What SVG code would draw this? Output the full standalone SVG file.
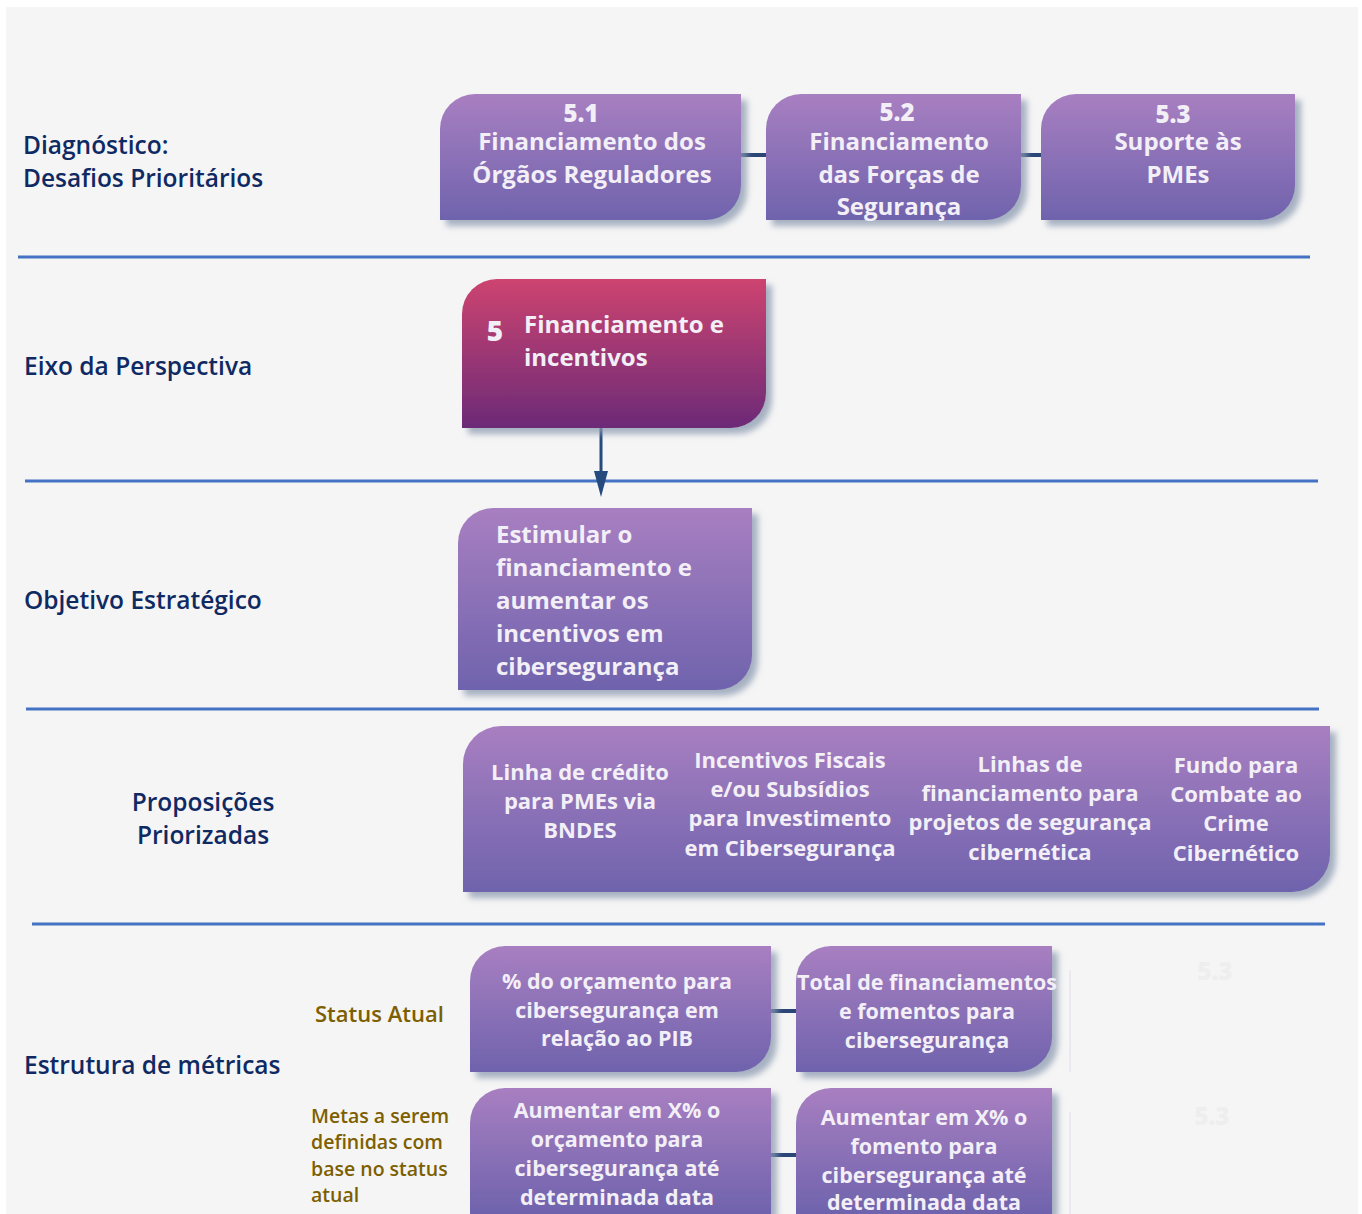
<svg xmlns="http://www.w3.org/2000/svg" width="1362" height="1214" viewBox="0 0 1362 1214">
  <defs>
    <linearGradient id="gPurple" x1="0" y1="0" x2="0" y2="1">
      <stop offset="0" stop-color="#a87fc1"/>
      <stop offset="1" stop-color="#6f63ad"/>
    </linearGradient>
    <linearGradient id="gPink" x1="0" y1="0" x2="0" y2="1">
      <stop offset="0" stop-color="#cd4470"/>
      <stop offset="1" stop-color="#6c2a77"/>
    </linearGradient>
    <filter id="shadow" x="-10%" y="-10%" width="125%" height="130%">
      <feDropShadow dx="6" dy="6" stdDeviation="3" flood-color="#8a9ab0" flood-opacity="0.75"/>
    </filter>
    <marker id="arrow" viewBox="0 0 26 14" refX="9" refY="7" markerWidth="26" markerHeight="14" markerUnits="userSpaceOnUse" orient="auto">
      <path d="M0,0 L26,7 L0,14 Z" fill="#254a7e"/>
    </marker>
    <style>
      .box { fill: url(#gPurple); filter: url(#shadow); }
      .pink { fill: url(#gPink); filter: url(#shadow); }
      .bt, .btl { font-family: "Open Sans", "Liberation Sans", sans-serif; font-weight: 700; fill: #f3eff7; }
      .bt { text-anchor: middle; }
      .btl { text-anchor: start; }
      .big { font-size: 24px; }
      .mid { font-size: 22px; }
      .sml { font-size: 21.5px; }
      .num { font-family: "Open Sans", "Liberation Sans", sans-serif; font-weight: 800; fill: #f3eff7; font-size: 24px; text-anchor: middle; }
      .lbl { font-family: "Open Sans", "Liberation Sans", sans-serif; font-weight: 600; fill: #0f2a63; font-size: 24.5px; }
      .gold { font-family: "Open Sans", "Liberation Sans", sans-serif; font-weight: 600; fill: #7d5f00; }
      .rule { stroke: #4472c4; stroke-width: 3; }
      .link { stroke: #2b4676; stroke-width: 4; fill: none; }
    </style>
  </defs>

  <!-- page -->
  <rect x="0" y="0" width="1362" height="1214" fill="#ffffff"/>
  <rect x="6" y="7" width="1352" height="1207" fill="#f5f5f5"/>

  <!-- section rules -->
  <g id="rules">
    <line class="rule" x1="18" y1="257" x2="1310" y2="257"/>
    <line class="rule" x1="25" y1="481" x2="1318" y2="481"/>
    <line class="rule" x1="26" y1="709" x2="1319" y2="709"/>
    <line class="rule" x1="32" y1="924" x2="1325" y2="924"/>
  </g>

  <!-- row labels -->
  <g id="labels">
    <text class="lbl" x="23" y="154">Diagnóstico:</text>
    <text class="lbl" x="23" y="187">Desafios Prioritários</text>
    <text class="lbl" x="24" y="375">Eixo da Perspectiva</text>
    <text class="lbl" x="24" y="609">Objetivo Estratégico</text>
    <text class="lbl" x="203" y="811" text-anchor="middle">Proposições</text>
    <text class="lbl" x="203" y="844" text-anchor="middle">Priorizadas</text>
    <text class="lbl" x="24" y="1074">Estrutura de métricas</text>
    <text class="gold" x="315" y="1022" font-size="22">Status Atual</text>
    <text class="gold" x="311" y="1123" font-size="19.5">Metas a serem</text>
    <text class="gold" x="311" y="1149" font-size="19.5">definidas com</text>
    <text class="gold" x="311" y="1176" font-size="19.5">base no status</text>
    <text class="gold" x="311" y="1202" font-size="19.5">atual</text>
  </g>

  <!-- connectors -->
  <g id="connectors">
    <line class="link" x1="741" y1="155" x2="766" y2="155"/>
    <line class="link" x1="1021" y1="155" x2="1041" y2="155"/>
    <line x1="601" y1="428" x2="601" y2="480" stroke="#254a7e" stroke-width="3" marker-end="url(#arrow)"/>
    <line class="link" x1="771" y1="1011" x2="796" y2="1011"/>
    <line class="link" x1="771" y1="1155" x2="796" y2="1155"/>
  </g>

  <!-- diagnostic challenges -->
  <g id="node-5-1">
    <path class="box" d="M440,129 A35,35 0 0 1 475,94 H741 V185 A35,35 0 0 1 706,220 H440 Z"/>
    <text class="num" x="581" y="122">5.1</text>
    <text class="bt big" x="592" y="150">Financiamento dos</text>
    <text class="bt big" x="592" y="183">Órgãos Reguladores</text>
  </g>
  <g id="node-5-2">
    <path class="box" d="M766,129 A35,35 0 0 1 801,94 H1021 V185 A35,35 0 0 1 986,220 H766 Z"/>
    <text class="num" x="897" y="121">5.2</text>
    <text class="bt big" x="899" y="150">Financiamento</text>
    <text class="bt big" x="899" y="183">das Forças de</text>
    <text class="bt big" x="899" y="215">Segurança</text>
  </g>
  <g id="node-5-3">
    <path class="box" d="M1041,129 A35,35 0 0 1 1076,94 H1295 V185 A35,35 0 0 1 1260,220 H1041 Z"/>
    <text class="num" x="1173" y="123">5.3</text>
    <text class="bt big" x="1178" y="150">Suporte às</text>
    <text class="bt big" x="1178" y="183">PMEs</text>
  </g>

  <!-- perspective axis -->
  <g id="node-eixo">
    <path class="pink" d="M462,314 A35,35 0 0 1 497,279 H766 V393 A35,35 0 0 1 731,428 H462 Z"/>
    <text class="num" x="495" y="341" font-size="28" style="font-size:28px">5</text>
    <text class="btl big" x="524" y="333">Financiamento e</text>
    <text class="btl big" x="524" y="366">incentivos</text>
  </g>

  <!-- strategic objective -->
  <g id="node-objetivo">
    <path class="box" d="M458,543 A35,35 0 0 1 493,508 H752 V655 A35,35 0 0 1 717,690 H458 Z"/>
    <text class="btl big" x="496" y="543">Estimular o</text>
    <text class="btl big" x="496" y="576">financiamento e</text>
    <text class="btl big" x="496" y="609">aumentar os</text>
    <text class="btl big" x="496" y="642">incentivos em</text>
    <text class="btl big" x="496" y="675">cibersegurança</text>
  </g>

  <!-- prioritized propositions -->
  <g id="node-proposicoes">
    <path class="box" d="M463,764 A38,38 0 0 1 501,726 H1330 V854 A38,38 0 0 1 1292,892 H463 Z"/>
    <text class="bt mid" x="580" y="780">Linha de crédito</text>
    <text class="bt mid" x="580" y="809">para PMEs via</text>
    <text class="bt mid" x="580" y="838">BNDES</text>
    <text class="bt mid" x="790" y="768">Incentivos Fiscais</text>
    <text class="bt mid" x="790" y="797">e/ou Subsídios</text>
    <text class="bt mid" x="790" y="826">para Investimento</text>
    <text class="bt mid" x="790" y="856">em Cibersegurança</text>
    <text class="bt mid" x="1030" y="772">Linhas de</text>
    <text class="bt mid" x="1030" y="801">financiamento para</text>
    <text class="bt mid" x="1030" y="830">projetos de segurança</text>
    <text class="bt mid" x="1030" y="860">cibernética</text>
    <text class="bt mid" x="1236" y="773">Fundo para</text>
    <text class="bt mid" x="1236" y="802">Combate ao</text>
    <text class="bt mid" x="1236" y="831">Crime</text>
    <text class="bt mid" x="1236" y="861">Cibernético</text>
  </g>

  <!-- metrics framework -->
  <g id="node-metrica-orcamento">
    <path class="box" d="M470,981 A35,35 0 0 1 505,946 H771 V1037 A35,35 0 0 1 736,1072 H470 Z"/>
    <text class="bt sml" x="617" y="989">% do orçamento para</text>
    <text class="bt sml" x="617" y="1018">cibersegurança em</text>
    <text class="bt sml" x="617" y="1046">relação ao PIB</text>
  </g>
  <g id="node-metrica-fomento">
    <path class="box" d="M796,981 A35,35 0 0 1 831,946 H1052 V1037 A35,35 0 0 1 1017,1072 H796 Z"/>
    <text class="bt sml" x="927" y="990">Total de financiamentos</text>
    <text class="bt sml" x="927" y="1019">e fomentos para</text>
    <text class="bt sml" x="927" y="1048">cibersegurança</text>
  </g>
  <g id="node-meta-orcamento">
    <path class="box" d="M470,1123 A35,35 0 0 1 505,1088 H771 V1214 H470 Z"/>
    <text class="bt sml" x="617" y="1118">Aumentar em X% o</text>
    <text class="bt sml" x="617" y="1147">orçamento para</text>
    <text class="bt sml" x="617" y="1176">cibersegurança até</text>
    <text class="bt sml" x="617" y="1205">determinada data</text>
  </g>
  <g id="node-meta-fomento">
    <path class="box" d="M796,1123 A35,35 0 0 1 831,1088 H1052 V1214 H796 Z"/>
    <text class="bt sml" x="924" y="1125">Aumentar em X% o</text>
    <text class="bt sml" x="924" y="1154">fomento para</text>
    <text class="bt sml" x="924" y="1183">cibersegurança até</text>
    <text class="bt sml" x="924" y="1210">determinada data</text>
  </g>

  <!-- faded remnants at the right of the metrics row -->
  <g id="faded">
    <line x1="1070" y1="970" x2="1070" y2="1072" stroke="#e2dcec" stroke-width="1"/>
    <line x1="1070" y1="1112" x2="1070" y2="1214" stroke="#e2dcec" stroke-width="1"/>
    <text x="1215" y="980" font-family="Open Sans, sans-serif" font-weight="800" font-size="24" fill="#eeeeee" text-anchor="middle">5.3</text>
    <text x="1212" y="1125" font-family="Open Sans, sans-serif" font-weight="800" font-size="24" fill="#eeeeee" text-anchor="middle">5.3</text>
  </g>
</svg>
